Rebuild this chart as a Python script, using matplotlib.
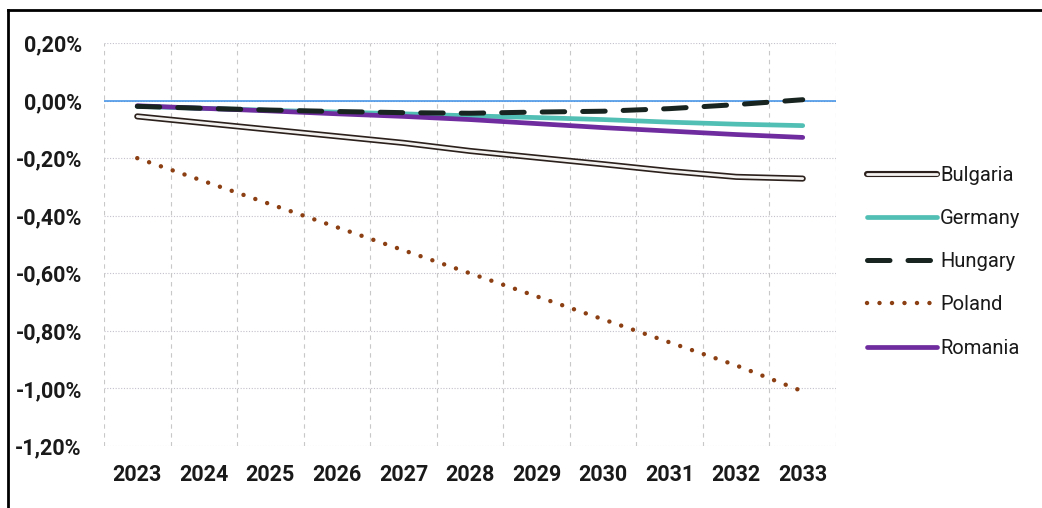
import numpy as np
import matplotlib.pyplot as plt
from matplotlib.lines import Line2D
from matplotlib.ticker import FuncFormatter, MultipleLocator

plt.rcParams['font.family'] = ['Roboto', 'DejaVu Sans']

years = ['2023', '2024', '2025', '2026', '2027', '2028', '2029', '2030', '2031', '2032', '2033']

bulgaria = [-0.055, -0.078, -0.101, -0.124, -0.147, -0.175, -0.198, -0.221, -0.245, -0.265, -0.271]
germany = [-0.020, -0.027, -0.034, -0.040, -0.046, -0.053, -0.059, -0.066, -0.075, -0.082, -0.087]
hungary = [-0.020, -0.027, -0.033, -0.038, -0.042, -0.044, -0.040, -0.037, -0.028, -0.014, 0.003]
poland = [-0.200, -0.280, -0.360, -0.440, -0.520, -0.600, -0.680, -0.760, -0.840, -0.920, -1.003]
romania = [-0.018, -0.027, -0.036, -0.046, -0.055, -0.066, -0.080, -0.094, -0.106, -0.118, -0.128]

x = np.arange(len(years))

fig = plt.figure(figsize=(10.42, 5.08), dpi=100)
ax = fig.add_axes([104/1042, 1-446/508, (836-104)/1042, (446-43)/508])

# grid
for v in np.arange(-1.2, 0.21, 0.2):
    ax.axhline(v, color='#c4c0cc', lw=0.8, ls=(0, (1, 1.5)), zorder=0)
for b in np.arange(-0.5, len(years), 1.0):
    ax.axvline(b, color='#c8c8c8', lw=0.8, ls=(0, (4, 4)), zorder=0)
ax.axhline(0, color='#3a8ee6', lw=1.1, zorder=1)

# Bulgaria double line
bo, = ax.plot(x, bulgaria, color='#2b201b', lw=4.4, solid_capstyle='round', zorder=3)
bi, = ax.plot(x, bulgaria, color='#f4f2f0', lw=2.0, solid_capstyle='round', zorder=4)
pl, = ax.plot(x[:-1].tolist() + [x[-1]-0.08], poland[:-1] + [poland[-1]], color='#8b3f12', lw=3.2,
              ls=(0, (0.01, 2.8)), dash_capstyle='round', zorder=3)
ge, = ax.plot(x, germany, color='#52bfb5', lw=3.4, solid_capstyle='round', zorder=3)
ro, = ax.plot(x, romania, color='#6e2c9e', lw=3.4, solid_capstyle='round', zorder=4)
hu, = ax.plot(x, hungary, color='#17241f', lw=3.6, ls=(0, (4.5, 3.6)), dash_capstyle='round', zorder=5)

ax.set_xlim(-0.5, len(years)-0.5)
ax.set_ylim(-1.2, 0.2)
ax.yaxis.set_major_locator(MultipleLocator(0.2))
ax.yaxis.set_major_formatter(FuncFormatter(lambda v, p: ('%.2f%%' % v).replace('.', ',').replace('-0,00', '0,00')))
ax.set_xticks(x)
ax.set_xticklabels(years)
ax.tick_params(axis='both', length=0, labelsize=15.5, colors='#1a1a1a')
ax.tick_params(axis='y', pad=16)
ax.tick_params(axis='x', pad=13)
for lab in ax.get_xticklabels() + ax.get_yticklabels():
    lab.set_fontweight('bold')
for s in ax.spines.values():
    s.set_visible(False)

handles = [(bo, bi), ge, hu, pl, ro]
labels = ['Bulgaria', 'Germany', 'Hungary', 'Poland', 'Romania']
leg = fig.legend(handles, labels, loc='upper left', bbox_to_anchor=(867/1042, 1-166/508),
                 frameon=False, fontsize=14.5, handlelength=3.5, handletextpad=0.12,
                 labelspacing=1.2, borderpad=0, borderaxespad=0)
for t in leg.get_texts():
    t.set_color('#1a1a1a')

# outer frame (top and left)
fig.add_artist(Line2D([8/1042, 1], [1-10/508, 1-10/508], color='black', lw=2, transform=fig.transFigure))
fig.add_artist(Line2D([8/1042, 8/1042], [0, 1-10/508], color='black', lw=2, transform=fig.transFigure))

fig.savefig('out.png', dpi=100)
